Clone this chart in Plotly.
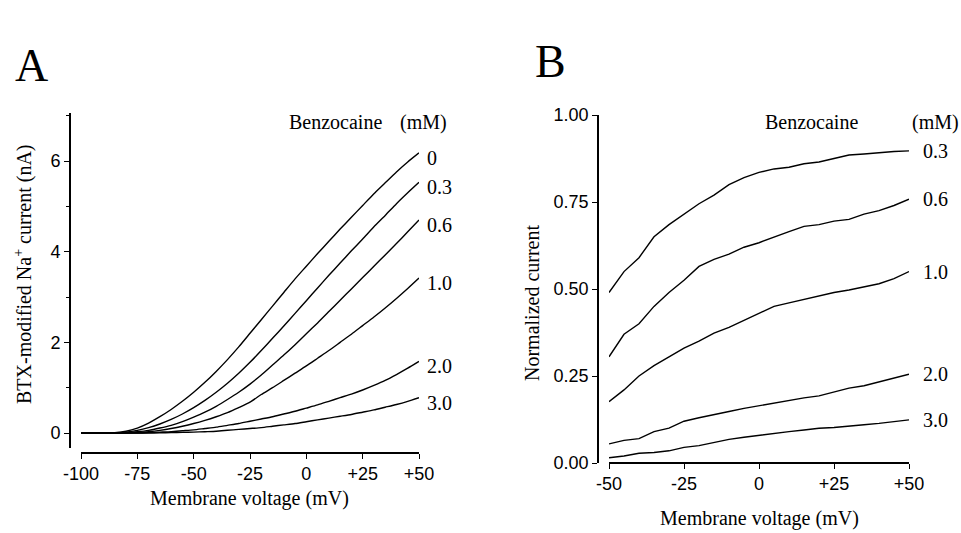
import plotly.graph_objects as go

W, H = 961, 533

# ---------------- Panel A data ----------------
voltage_a = [-100, -90, -85, -80, -75, -70, -65, -60, -55, -50, -45, -40, -35, -30, -25,
             -20, -15, -10, -5, 0, 5, 10, 15, 20, 25, 30, 35, 40, 45, 50]
current_0 = [0, 0, 0.01, 0.04, 0.11, 0.22, 0.36, 0.52, 0.70, 0.90, 1.12, 1.36, 1.62, 1.90, 2.20,
             2.50, 2.80, 3.10, 3.40, 3.68, 3.96, 4.23, 4.50, 4.76, 5.02, 5.28, 5.52, 5.76, 5.98, 6.18]
current_03 = [0, 0, 0, 0.02, 0.06, 0.12, 0.20, 0.30, 0.42, 0.56, 0.72, 0.90, 1.10, 1.32, 1.56,
              1.82, 2.09, 2.36, 2.64, 2.92, 3.20, 3.48, 3.75, 4.02, 4.28, 4.55, 4.80, 5.06, 5.30, 5.53]
current_06 = [0, 0, 0, 0.01, 0.03, 0.06, 0.11, 0.17, 0.25, 0.35, 0.46, 0.59, 0.74, 0.90, 1.08,
              1.28, 1.50, 1.72, 1.95, 2.19, 2.43, 2.68, 2.93, 3.18, 3.43, 3.68, 3.93, 4.18, 4.44, 4.70]
current_10 = [0, 0, 0, 0, 0.01, 0.03, 0.06, 0.10, 0.15, 0.21, 0.28, 0.36, 0.45, 0.56, 0.68,
              0.85, 1.00, 1.16, 1.32, 1.48, 1.65, 1.82, 2.00, 2.18, 2.37, 2.56, 2.76, 2.97, 3.19, 3.42]
current_20 = [0, 0, 0, 0, 0, 0.01, 0.02, 0.03, 0.05, 0.07, 0.10, 0.13, 0.17, 0.21, 0.26,
              0.31, 0.36, 0.42, 0.48, 0.55, 0.62, 0.70, 0.78, 0.86, 0.95, 1.05, 1.16, 1.29, 1.43, 1.58]
current_30 = [0, 0, 0, 0, 0, 0, 0.005, 0.01, 0.015, 0.02, 0.03, 0.04, 0.06, 0.08, 0.10,
              0.12, 0.15, 0.18, 0.21, 0.25, 0.29, 0.33, 0.37, 0.41, 0.46, 0.51, 0.57, 0.63, 0.70, 0.78]
labels_a = ["0", "0.3", "0.6", "1.0", "2.0", "3.0"]
series_a = [current_0, current_03, current_06, current_10, current_20, current_30]
xticks_a = [-100, -75, -50, -25, 0, 25, 50]
xticktext_a = ["-100", "-75", "-50", "-25", "0", "+25", "+50"]
yticks_a = [0, 2, 4, 6]
yminor_a = [1, 3, 5, 7]

# ---------------- Panel B data ----------------
voltage_b = [-50, -45, -40, -35, -30, -25, -20, -15, -10, -5, 0, 5, 10, 15, 20, 25, 30, 35, 40, 45, 50]
norm_03 = [0.49, 0.55, 0.59, 0.65, 0.685, 0.715, 0.745, 0.77, 0.80, 0.82, 0.835, 0.845, 0.85, 0.86,
           0.865, 0.875, 0.885, 0.888, 0.892, 0.895, 0.897]
norm_06 = [0.305, 0.37, 0.40, 0.45, 0.49, 0.525, 0.565, 0.585, 0.60, 0.62, 0.633, 0.65, 0.665, 0.68,
           0.685, 0.695, 0.70, 0.715, 0.725, 0.74, 0.758]
norm_10 = [0.176, 0.21, 0.25, 0.28, 0.305, 0.33, 0.35, 0.373, 0.39, 0.41, 0.43, 0.45, 0.46, 0.47,
           0.48, 0.49, 0.497, 0.505, 0.515, 0.53, 0.55]
norm_20 = [0.055, 0.065, 0.07, 0.09, 0.10, 0.12, 0.13, 0.138, 0.148, 0.157, 0.165, 0.173, 0.18, 0.187,
           0.193, 0.205, 0.215, 0.222, 0.233, 0.245, 0.255]
norm_30 = [0.015, 0.02, 0.028, 0.03, 0.035, 0.045, 0.05, 0.06, 0.068, 0.074, 0.08, 0.086, 0.09, 0.095,
           0.10, 0.102, 0.105, 0.11, 0.114, 0.12, 0.124]
labels_b = ["0.3", "0.6", "1.0", "2.0", "3.0"]
series_b = [norm_03, norm_06, norm_10, norm_20, norm_30]
xticks_b = [-50, -25, 0, 25, 50]
xticktext_b = ["-50", "-25", "0", "+25", "+50"]
yticks_b = [0, 0.25, 0.5, 0.75, 1.0]
yticktext_b = ["0.00", "0.25", "0.50", "0.75", "1.00"]

SERIF = "Liberation Serif, Times New Roman, serif"
SANS = "Liberation Sans, Arial, sans-serif"


def px(x):
    return x / W


def py(y):
    return 1 - y / H


fig = go.Figure()
for ys in series_a:
    fig.add_trace(go.Scatter(x=voltage_a, y=ys, mode="lines", xaxis="x", yaxis="y",
                             line=dict(color="black", width=1.4, shape="spline", smoothing=0.6),
                             hoverinfo="skip"))
for ys in series_b:
    fig.add_trace(go.Scatter(x=voltage_b, y=ys, mode="lines", xaxis="x2", yaxis="y2",
                             line=dict(color="black", width=1.4), hoverinfo="skip"))

tickfont = dict(family=SANS, size=18, color="black")
axis_common = dict(showline=True, linecolor="black", linewidth=1.6, ticks="outside",
                   tickcolor="black", tickwidth=1.4, ticklen=5, showgrid=False,
                   zeroline=False, tickfont=tickfont, automargin=False)

annotations = []
for lab, ys in zip(labels_a, series_a):
    annotations.append(dict(x=voltage_a[-1], y=ys[-1], xref="x", yref="y", text=lab,
                            showarrow=False, xanchor="left", yanchor="middle", xshift=6, yshift=-5,
                            font=dict(family=SERIF, size=20, color="black")))
for lab, ys in zip(labels_b, series_b):
    annotations.append(dict(x=voltage_b[-1], y=ys[-1], xref="x2", yref="y2", text=lab,
                            showarrow=False, xanchor="left", yanchor="middle", xshift=12, yshift=0,
                            font=dict(family=SERIF, size=20, color="black")))


def txt(x, y, text, size=20, angle=0, family=SERIF, xanchor="center"):
    annotations.append(dict(x=px(x), y=py(y), xref="paper", yref="paper", text=text,
                            showarrow=False, xanchor=xanchor, yanchor="middle", textangle=angle,
                            font=dict(family=family, size=size, color="black")))


txt(31, 66, "A", size=46)
txt(550, 62, "B", size=46)
txt(335, 122, "Benzocaine")
txt(423, 122, "(mM)")
txt(811, 122, "Benzocaine")
txt(935, 122, "(mM)")
txt(250, 498, "Membrane voltage (mV)")
txt(759, 518, "Membrane voltage (mV)")
txt(23, 274, "BTX-modified Na<sup>+</sup> current (nA)", angle=-90)
txt(532, 303, "Normalized current", angle=-90)

fig.update_layout(
    width=W, height=H, autosize=False, margin=dict(l=0, r=0, t=0, b=0, pad=0),
    paper_bgcolor="white", plot_bgcolor="white", showlegend=False,
    xaxis=dict(domain=[px(81), px(419)], range=[-100, 50], anchor="free", position=py(453),
               tickvals=xticks_a, ticktext=xticktext_a, **axis_common),
    yaxis=dict(domain=[py(448), py(113)], range=[-0.33, 7.06], anchor="free", position=px(70),
               tickvals=yticks_a, minor=dict(tickvals=yminor_a, ticks="outside", ticklen=3,
                                             tickcolor="black", tickwidth=1.2),
               **axis_common),
    xaxis2=dict(domain=[px(609), px(909)], range=[-50, 50], anchor="free", position=py(463),
                tickvals=xticks_b, ticktext=xticktext_b, **axis_common),
    yaxis2=dict(domain=[py(463), py(115)], range=[0, 1.0], anchor="free", position=px(598),
                tickvals=yticks_b, ticktext=yticktext_b, **axis_common),
    annotations=annotations,
)

fig.write_html("out.html")
